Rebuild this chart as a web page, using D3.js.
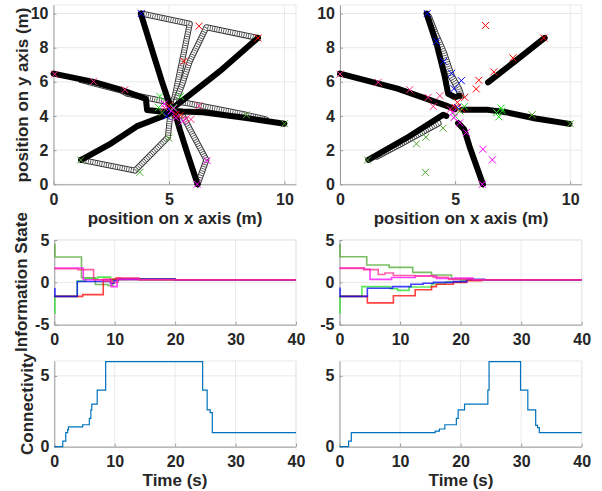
<!DOCTYPE html>
<html>
<head>
<meta charset="utf-8">
<title>Rendezvous</title>
<script src="https://cdn.jsdelivr.net/npm/d3@7"></script>
<style>
  body { margin: 0; background: #fff; }
  text { font-family: "Liberation Sans", Arial, Helvetica, sans-serif; font-weight: bold; fill: #262626; }
  .axis text { font-size: 16px; }
  .lab { font-size: 17px; }
  .grid line { stroke: #e9e9e9; stroke-width: 1; }
  .axis path, .axis line { stroke: #9c9c9c; }
</style>
</head>
<body>
<svg id="fig" width="602" height="491"></svg>
<script>
// robots: blue, red, green, dark green, magenta, pink
const robotColors = ["#0000ff", "#ff0000", "#22e022", "#4ea72e", "#ff00ff", "#ff2a8a"];

// --- trajectories, left run (x, y in m)
const tlDense = [
  [[3.78, 10.0], [4.35, 7.5], [4.7, 6.0], [4.95, 5.0], [5.1, 4.4]],
  [[8.85, 8.57], [7.19, 6.61], [5.9, 5.24], [5.2, 4.5]],
  [[0, 6.48], [1.73, 6.0], [2.9, 5.55], [4.0, 5.0], [4.05, 4.35], [4.75, 4.25], [5.1, 4.3]],
  [[1.2, 1.43], [2.5, 2.4], [3.6, 3.39], [4.9, 4.07], [5.1, 4.2]],
  [[5.3, 4.0], [5.47, 3.2], [5.8, 1.8], [6.24, 0]],
  [[5.3, 4.3], [5.6, 4.26], [6.47, 4.22], [8.35, 3.88], [10, 3.55]]
];
const tlSparse = [
  [[3.8, 10.0], [5.9, 9.4], [5.25, 5.14], [5.1, 4.6]],
  [[8.85, 8.57], [6.62, 9.2], [5.9, 7.2], [5.54, 5.73], [5.3, 4.9]],
  [[1.2, 6.1], [2.9, 5.5], [3.2, 5.3], [4.46, 4.95], [5.0, 4.8]],
  [[1.2, 1.43], [3.53, 0.8], [4.95, 2.75], [5.05, 4.0]],
  [[6.24, 0], [6.62, 1.43], [5.61, 3.97], [5.3, 4.2]],
  [[5.3, 4.85], [5.76, 4.76], [8.35, 4.07], [9.2, 3.8]]
];
// measurement crosses [x, y, robot]
const tlMarks = [
  [3.8, 10.0, 0], [5.0, 4.4, 0], [4.9, 4.0, 0],
  [6.3, 9.26, 1], [8.85, 8.57, 1], [5.65, 7.2, 1], [5.3, 4.1, 1], [5.0, 4.6, 1], [5.5, 4.05, 1],
  [4.6, 5.15, 2], [4.55, 4.5, 2], [5.5, 5.15, 2], [5.2, 4.5, 2],
  [8.35, 4.07, 3], [10, 3.55, 3], [4.99, 2.7, 3], [3.74, 0.7, 3], [1.18, 1.42, 3], [4.7, 4.2, 3],
  [6.65, 1.39, 4], [6.22, 0, 4], [4.8, 4.7, 4], [5.1, 4.3, 4], [5.2, 4.45, 4], [5.6, 3.7, 4], [5.3, 3.9, 4],
  [0.05, 6.45, 5], [1.73, 6.03, 5], [3.09, 5.54, 5], [6.3, 4.6, 5], [5.75, 3.85, 5], [5.95, 3.8, 5], [4.8, 4.5, 5]
];

// --- trajectories, right run
const trDense = [
  [[3.76, 10.0], [4.2, 8.2], [4.55, 6.32], [4.7, 5.3], [5.0, 5.1], [5.2, 5.2]],
  [[6.43, 5.97], [7.6, 7.2], [8.89, 8.57]],
  [[0, 6.48], [2.5, 5.6], [4.7, 4.56], [5.0, 4.4]],
  [[1.23, 1.43], [3.0, 2.8], [4.48, 4.07], [4.62, 4.0]],
  [[5.13, 3.58], [5.4, 3.2], [5.63, 2.2], [6.21, 0]],
  [[5.3, 4.36], [6.43, 4.36], [7.3, 4.2], [8.5, 3.85], [9.97, 3.54]]
];
const trSparse = [
  [[3.85, 9.8], [4.12, 8.87], [4.5, 7.7], [4.84, 6.32], [5.15, 5.6], [5.25, 5.2]],
  [[1.6, 1.65], [2.67, 2.41], [4.26, 3.58]]
];
const trMarks = [
  [3.79, 10.0, 0], [4.19, 8.37, 0], [4.5, 7.2, 0], [4.85, 6.5, 0], [4.95, 5.6, 0], [5.27, 6.07, 0], [5.1, 4.5, 0],
  [6.32, 9.3, 1], [8.85, 8.57, 1], [7.51, 7.4, 1], [6.68, 6.58, 1], [6.03, 6.09, 1], [5.92, 5.58, 1], [5.42, 5.09, 1], [5.1, 4.8, 1], [5.0, 4.5, 1], [5.3, 4.4, 1],
  [7.0, 4.46, 2], [7.05, 4.3, 2], [6.9, 3.95, 2], [6.8, 4.2, 2], [5.4, 4.55, 2], [5.0, 4.0, 2],
  [1.2, 1.42, 3], [3.32, 2.37, 3], [3.73, 2.76, 3], [4.48, 3.29, 3], [3.71, 0.7, 3], [8.35, 4.07, 3], [10, 3.55, 3], [5.2, 4.3, 3],
  [6.21, 2.05, 4], [6.62, 1.43, 4], [6.18, 0, 4], [5.49, 3.03, 4], [5.2, 3.6, 4], [4.9, 4.2, 4], [4.95, 3.9, 4],
  [0, 6.45, 5], [1.66, 5.97, 5], [3.03, 5.54, 5], [3.83, 5.09, 5], [4.34, 5.19, 5], [4.05, 4.56, 5], [4.8, 4.4, 5]
];

// --- information state, [t, value] steps
const infoLeftBlue = [[0, -0.75], [0.1, -1.65], [3.8, 0.1], [9.3, -0.1], [9.9, 0.2], [10.6, 0.4], [20, 0.3]];
const infoLeftRed = [[0, -1.65], [4.7, -1.45], [8.1, 0.35], [10.2, 0.5], [11, 0.45], [14, 0.35], [20, 0.3]];
const infoLeftGreen = [[0, -3.6], [0.1, -1.65], [3.8, 0.15], [5.2, 0.45], [7.2, 0.62], [9.3, 0.3], [14, 0.25], [20, 0.3]];
const infoLeftDkGreen = [[0, 4.45], [0.1, 3.0], [4.5, 0.55], [6.8, -0.25], [8.9, -0.38], [9.7, 0.35], [12, 0.4], [20, 0.3]];
const infoLeftMagenta = [[0, 1.7], [4.8, 0.3], [9.4, -0.5], [10.4, 0.3], [20, 0.3]];
const infoLeftPink = [[0, 1.6], [3.9, 1.5], [6.5, 0.3], [8.0, 0.15], [9.5, 0.0], [10.5, 0.5], [14, 0.3], [20, 0.3]];

const infoRightBlue = [[0, -0.7], [0.1, -1.65], [4.6, -0.7], [8.75, -0.5], [11.8, -0.23], [13.8, -0.1], [15.5, 0.0], [18.8, 0.08], [21, 0.35], [24, 0.3]];
const infoRightRed = [[0, -1.65], [4.6, -2.42], [8.9, -1.58], [12.5, -0.88], [15.2, -0.5], [16, -0.23], [18.8, 0.0], [21, 0.2], [23.5, 0.3]];
const infoRightGreen = [[0, -3.6], [0.1, -1.65], [3.7, -0.5], [8.4, -0.75], [9.6, -0.95], [11.5, -0.55], [15.2, -0.2], [17.5, 0.05], [20, 0.25], [23, 0.3]];
const infoRightDkGreen = [[0, 4.45], [0.1, 3.03], [4.5, 2.05], [8.2, 1.77], [12.1, 1.18], [15.2, 0.87], [18.5, 0.39], [22, 0.3]];
const infoRightMagenta = [[0, 1.7], [4.1, 1.55], [5.05, 0.35], [8.6, 0.58], [12.5, 0.75], [16, 0.45], [19, 0.5], [22, 0.3]];
const infoRightPink = [[0, 1.65], [4.0, 1.5], [6.4, 0.92], [7.5, 1.1], [8.9, 0.8], [12.5, 0.75], [15.5, 0.6], [18, 0.35], [22, 0.3]];

// --- connectivity, [t, value] steps
const connLeft = [[0, 0], [1.4, 0.4], [1.9, 1.0], [2.2, 1.2], [2.35, 1.4], [4.7, 1.55], [5.8, 2.0], [6.05, 2.6], [6.2, 3.0],
  [7.1, 4.0], [8.5, 6.0], [24.55, 4.0], [25.3, 2.6], [25.8, 2.4], [26.15, 1.0], [40, 1.0]];
const connRight = [[0, 0], [1.5, 0.4], [1.95, 1.0], [15.8, 1.1], [16.5, 1.25], [17.4, 1.55], [19.3, 2.0], [19.6, 2.6],
  [20.65, 3.0], [24.5, 4.0], [24.7, 6.0], [29.9, 4.0], [31.1, 2.6], [32.4, 1.5], [32.7, 1.35], [33.0, 1.0], [40, 1.0]];

const posTicks = [0, 5, 10], posYTicks = [0, 2, 4, 6, 8, 10];
const timeTicks = [0, 10, 20, 30, 40], infoTicks = [-5, 0, 5], connTicks = [0, 5];

const svg = d3.select("#fig");
const fmt = d => String(d); // plain hyphen minus, no decimals

function frame(xs, ys, xt, yt) {
  const g = svg.append("g");
  const [xa, xb] = xs.range(), [ya, yb] = ys.range();
  const grid = g.append("g").attr("class", "grid");
  grid.selectAll("line.v").data(xt).join("line").attr("class", "v")
    .attr("x1", d => xs(d)).attr("x2", d => xs(d)).attr("y1", ya).attr("y2", yb);
  grid.selectAll("line.h").data(yt).join("line").attr("class", "h")
    .attr("x1", xa).attr("x2", xb).attr("y1", d => ys(d)).attr("y2", d => ys(d));
  grid.append("line").attr("x1", xa).attr("x2", xb).attr("y1", yb).attr("y2", yb);
  grid.append("line").attr("x1", xb).attr("x2", xb).attr("y1", ya).attr("y2", yb);
  g.append("g").attr("class", "axis").attr("transform", `translate(0,${ya})`)
    .call(d3.axisBottom(xs).tickValues(xt).tickFormat(fmt).tickSize(-3).tickSizeOuter(0).tickPadding(9));
  g.append("g").attr("class", "axis").attr("transform", `translate(${xa},0)`)
    .call(d3.axisLeft(ys).tickValues(yt).tickFormat(fmt).tickSize(-3).tickSizeOuter(0).tickPadding(5));
  g.selectAll(".axis text").attr("fill", "#262626");
  return g;
}

function trajPlot(xr, dense, sparse, marks, sw) {
  const x = d3.scaleLinear().domain([0, 10.5]).range(xr);
  const y = d3.scaleLinear().domain([0, 10.5]).range([184.3, 5]);
  const g = frame(x, y, posTicks, posYTicks);
  const line = d3.line().x(d => x(d[0])).y(d => y(d[1]));
  const body = g.append("g").attr("fill", "none").attr("stroke-linejoin", "round").attr("stroke-linecap", "round");
  // ring-chain look for the fast legs
  sparse.forEach(p => {
    body.append("path").attr("d", line(p)).attr("stroke", "#333").attr("stroke-width", sw);
    body.append("path").attr("d", line(p)).attr("stroke", "#fff").attr("stroke-width", sw - 2);
    body.append("path").attr("d", line(p)).attr("stroke", "#444").attr("stroke-width", sw - 2)
      .attr("stroke-linecap", "butt").attr("stroke-dasharray", "0.8 1.5");
  });
  dense.forEach(p => {
    body.append("path").attr("d", line(p)).attr("stroke", "#000").attr("stroke-width", 6);
  });
  g.append("g").selectAll("path").data(marks).join("path")
    .attr("transform", d => `translate(${x(d[0])},${y(d[1])})`)
    .attr("d", "M-3.5,-3.5L3.5,3.5M-3.5,3.5L3.5,-3.5")
    .attr("fill", "none").attr("stroke", d => robotColors[d[2]]).attr("stroke-width", 1);
}

function infoPlot(xr, series) {
  const x = d3.scaleLinear().domain([0, 40]).range(xr);
  const y = d3.scaleLinear().domain([-5, 5]).range([324.7, 240]);
  const g = frame(x, y, timeTicks, infoTicks);
  const line = d3.line().x(d => x(d[0])).y(d => y(d[1])).curve(d3.curveStepAfter);
  const order = [3, 2, 1, 0, 4, 5];
  order.forEach(i => {
    const s = series[i];
    const pts = s.concat([[40, s[s.length - 1][1]]]);
    g.append("path").attr("d", line(pts)).attr("fill", "none")
      .attr("stroke", robotColors[i]).attr("stroke-width", 1.6).attr("stroke-opacity", 0.75);
  });
}

function connPlot(xr, data) {
  const x = d3.scaleLinear().domain([0, 40]).range(xr);
  const y = d3.scaleLinear().domain([0, 6.05]).range([446.7, 361]);
  const g = frame(x, y, timeTicks, connTicks);
  const line = d3.line().x(d => x(d[0])).y(d => y(d[1])).curve(d3.curveStepAfter);
  g.append("path").attr("d", line(data)).attr("fill", "none")
    .attr("stroke", "#0072bd").attr("stroke-width", 1.2);
}

trajPlot([53.5, 296], tlDense, tlSparse, tlMarks, 6);
trajPlot([340, 581.7], trDense, trSparse, trMarks, 7);
infoPlot([54.3, 296], [infoLeftBlue, infoLeftRed, infoLeftGreen, infoLeftDkGreen, infoLeftMagenta, infoLeftPink]);
infoPlot([339.5, 581.7], [infoRightBlue, infoRightRed, infoRightGreen, infoRightDkGreen, infoRightMagenta, infoRightPink]);
connPlot([54.3, 296], connLeft);
connPlot([339.5, 581.7], connRight);

// axis titles
const labs = [
  {t: "position on y axis (m)", x: 28, y: 95, r: true},
  {t: "Information State", x: 27, y: 282, r: true},
  {t: "Connectivity", x: 33, y: 404, r: true},
  {t: "position on x axis (m)", x: 175, y: 224},
  {t: "position on x axis (m)", x: 461, y: 224},
  {t: "Time (s)", x: 175, y: 486},
  {t: "Time (s)", x: 461, y: 486}
];
svg.append("g").selectAll("text").data(labs).join("text")
  .attr("class", "lab").attr("text-anchor", "middle")
  .attr("transform", d => d.r ? `translate(${d.x},${d.y}) rotate(-90)` : `translate(${d.x},${d.y})`)
  .text(d => d.t);
</script>
</body>
</html>
